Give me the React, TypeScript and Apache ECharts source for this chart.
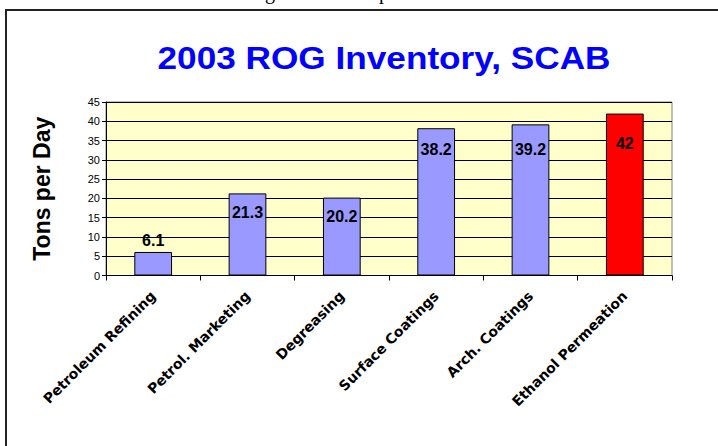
import React, { useEffect, useRef } from "react";
import * as echarts from "echarts";

const categories = [
  "Petroleum Refining",
  "Petrol. Marketing",
  "Degreasing",
  "Surface Coatings",
  "Arch. Coatings",
  "Ethanol Permeation",
];
const values = [6.1, 21.3, 20.2, 38.2, 39.2, 42];
const highlightIndex = 5;
const chartTitle = "2003 ROG Inventory, SCAB";
const yAxisTitle = "Tons per Day";
const yMin = 0;
const yMax = 45;
const yInterval = 5;

// label placement styles (not data)
const labelInsideDistance = [0, 11, 10.5, 13.5, 17, 22];

export default function App() {
  const ref = useRef<HTMLDivElement>(null);
  useEffect(() => {
    document.body.style.margin = "0";
    const chart = echarts.init(ref.current!, null, { renderer: "svg" });
    const font = "Liberation Sans";
    chart.setOption({
      animation: false,
      backgroundColor: "#FFFFFF",
      graphic: [
        {
          type: "rect",
          shape: { x: 6, y: 10, width: 800, height: 600 },
          style: { fill: "none", stroke: "#222", lineWidth: 2 },
          silent: true,
        },
        {
          type: "text",
          x: 270,
          y: -18,
          style: {
            text: "g",
            font: "20px 'Liberation Serif'",
            fill: "#000",
            textAlign: "center",
            textVerticalAlign: "top",
          },
        },
        {
          type: "text",
          x: 384,
          y: -18,
          style: {
            text: "p",
            font: "20px 'Liberation Serif'",
            fill: "#000",
            textAlign: "center",
            textVerticalAlign: "top",
          },
        },
        {
          type: "text",
          x: 384,
          y: 58,
          scaleX: 1.1,
          style: {
            text: chartTitle,
            font: `bold 32px '${font}'`,
            fill: "#0000FF",
            textAlign: "center",
            textVerticalAlign: "middle",
          },
        },
      ],
      grid: {
        left: 106,
        top: 102,
        width: 566,
        height: 173.5,
        show: true,
        backgroundColor: "#FFFFCC",
        borderColor: "#808080",
        borderWidth: 1,
        containLabel: false,
      },
      xAxis: {
        type: "category",
        data: categories,
        axisLine: { show: true, lineStyle: { color: "#000", width: 1 } },
        axisTick: { show: true, length: 5, lineStyle: { color: "#000" } },
        axisLabel: {
          rotate: 45,
          margin: 18,
          interval: 0,
          fontFamily: "DejaVu Sans",
          fontWeight: "bold",
          fontSize: 14,
          color: "#000",
        },
      },
      yAxis: {
        type: "value",
        min: yMin,
        max: yMax,
        interval: yInterval,
        name: yAxisTitle,
        nameLocation: "middle",
        nameRotate: 90,
        nameGap: 53,
        nameTextStyle: {
          fontFamily: font,
          fontWeight: "bold",
          fontSize: 23,
          color: "#000",
        },
        axisLine: { show: true, lineStyle: { color: "#000", width: 1 } },
        axisTick: { show: true, length: 4, lineStyle: { color: "#000" } },
        axisLabel: {
          margin: 6,
          fontFamily: font,
          fontSize: 11,
          color: "#000",
        },
        splitLine: { show: true, lineStyle: { color: "#000", width: 1 } },
      },
      series: [
        {
          type: "bar",
          barWidth: "40%",
          data: values.map((v, i) => ({
            value: v,
            itemStyle: {
              color: i === highlightIndex ? "#FF0000" : "#9999FF",
              borderColor: "#000",
              borderWidth: 1,
            },
            label:
              i === 0
                ? { position: "top", distance: 3 }
                : { position: "insideTop", distance: labelInsideDistance[i] },
          })),
          label: {
            show: true,
            fontFamily: font,
            fontWeight: "bold",
            fontSize: 16,
            color: "#000",
          },
        },
      ],
    });
    return () => chart.dispose();
  }, []);
  return <div ref={ref} style={{ width: 718, height: 446 }} />;
}
